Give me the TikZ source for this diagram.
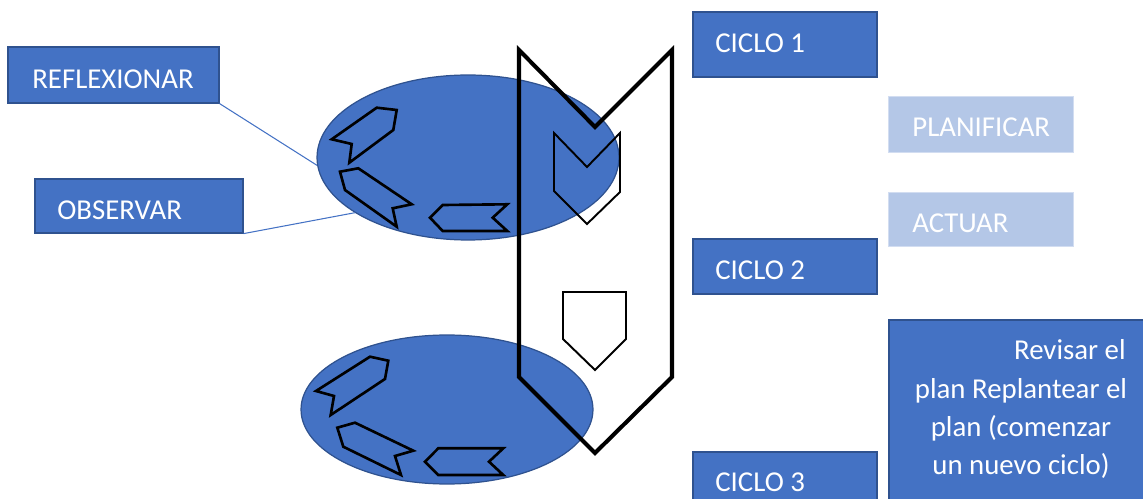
\documentclass[tikz,border=0pt]{standalone}
\usepackage{fontspec}
\setmainfont{Carlito}
\usetikzlibrary{shapes.geometric}
\definecolor{accent}{HTML}{4472C4}
\definecolor{accentdark}{HTML}{2F528F}
\definecolor{accentlight}{HTML}{B4C7E7}
\begin{document}
\begin{tikzpicture}[x=0.02cm, y=-0.02cm,
  darkbox/.style={draw=accentdark, line width=0.7pt, fill=accent, inner sep=0pt},
  lightbox/.style={draw=accentlight!60, line width=0.5pt, fill=accentlight, inner sep=0pt},
  lbl/.style={text=white, font=\fontsize{16.4}{20}\selectfont, inner sep=0pt},
  disc/.style={ellipse, draw=accentdark, line width=0.7pt, fill=accent, inner sep=0pt},
  link/.style={draw=accent, line width=0.6pt},
  thick outline/.style={draw=black, line width=2.3pt, line join=miter},
  thin outline/.style={draw=black, line width=1.1pt, line join=miter},
  arrowshape/.style={draw=black, line width=1.5pt, line join=miter}]
\clip (0,0) rectangle (1143,499);
\useasboundingbox (0,0) rectangle (1143,499);

% cycle discs
\node[disc, minimum width=6.04cm, minimum height=3.30cm] (disctop) at (468,157.5) {};
\node[disc, minimum width=5.84cm, minimum height=2.98cm] (discbottom) at (447,409.5) {};

% left labels
\node[darkbox, minimum width=4.22cm, minimum height=1.12cm] (reflbox) at (113.5,75) {};
\node[lbl, anchor=base west] (refltxt) at (32,88.5) {REFLEXIONAR};
\node[darkbox, minimum width=4.16cm, minimum height=1.08cm] (obsbox) at (139,206) {};
\node[lbl, anchor=base west] (obstxt) at (57,219.5) {OBSERVAR};
\draw[link] (reflbox.south east) -- (disctop.183);
\draw[link] (obsbox.south east) -- (disctop.206);

% arrows on the top disc
\draw[arrowshape] (376.7,107.7) -- (396.7,110) -- (393.3,130) -- (349.3,162.7)
  -- (351.7,144) -- (331.7,139.3) -- cycle;
\draw[arrowshape] (340,171.7) -- (358.3,168.3) -- (411.7,204.3) -- (392.7,208.3)
  -- (396.7,226.7) -- (345,190) -- cycle;
\draw[arrowshape] (430,217.7) -- (442.7,205) -- (507.3,204.3) -- (492.7,217.7)
  -- (507.3,231) -- (442.7,231) -- cycle;

% arrows on the bottom disc
\draw[arrowshape] (370,356.7) -- (388.3,360.7) -- (385,379) -- (330.7,415)
  -- (334,396) -- (316,391) -- cycle;
\draw[arrowshape] (337.3,427.7) -- (355,422.7) -- (413.3,450.7) -- (395,456)
  -- (401,475) -- (343.3,446.7) -- cycle;
\draw[arrowshape] (425,461.7) -- (438.3,448.3) -- (503.3,448.3) -- (489,461.7)
  -- (503.3,475) -- (438.3,475) -- cycle;

% large chevron band
\draw[thick outline] (519,50) -- (595,127) -- (672,50) -- (672,377)
  -- (595,453) -- (519,377) -- cycle;
% small chevron and pentagon inside the band
\draw[thin outline] (554,133) -- (587,167) -- (620,133) -- (620,192)
  -- (587,224) -- (554,191) -- cycle;
\draw[thin outline] (563,292) -- (626,292) -- (626,339) -- (595,370)
  -- (563,339) -- cycle;

% cycle labels
\node[darkbox, minimum width=3.68cm, minimum height=1.30cm] (c1box) at (785,44.5) {};
\node[lbl, anchor=base west] (c1txt) at (715,52.5) {CICLO 1};
\node[darkbox, minimum width=3.68cm, minimum height=1.10cm] (c2box) at (785,266.5) {};
\node[lbl, anchor=base west] (c2txt) at (715,279.5) {CICLO 2};
\node[darkbox, minimum width=3.68cm, minimum height=1.36cm] (c3box) at (785,486) {};
\node[lbl, anchor=base west] (c3txt) at (715,491.7) {CICLO 3};

% steps
\node[lightbox, minimum width=3.70cm, minimum height=1.12cm] (planbox) at (980.5,124) {};
\node[lbl, anchor=base west] (plantxt) at (912,136.7) {PLANIFICAR};
\node[lightbox, minimum width=3.70cm, minimum height=1.08cm] (actbox) at (980.5,219) {};
\node[lbl, anchor=base west] (acttxt) at (912,233) {ACTUAR};

% review box
\node[darkbox, minimum width=5.42cm, minimum height=4cm] (revbox) at (1024.5,420) {};
\node[lbl, anchor=base east] (rev1) at (1126,360) {Revisar el};
\node[lbl, anchor=base] (rev2) at (1021,399) {plan Replantear el};
\node[lbl, anchor=base] (rev3) at (1021,437) {plan (comenzar};
\node[lbl, anchor=base] (rev4) at (1021,475) {un nuevo ciclo)};
\end{tikzpicture}
\end{document}
